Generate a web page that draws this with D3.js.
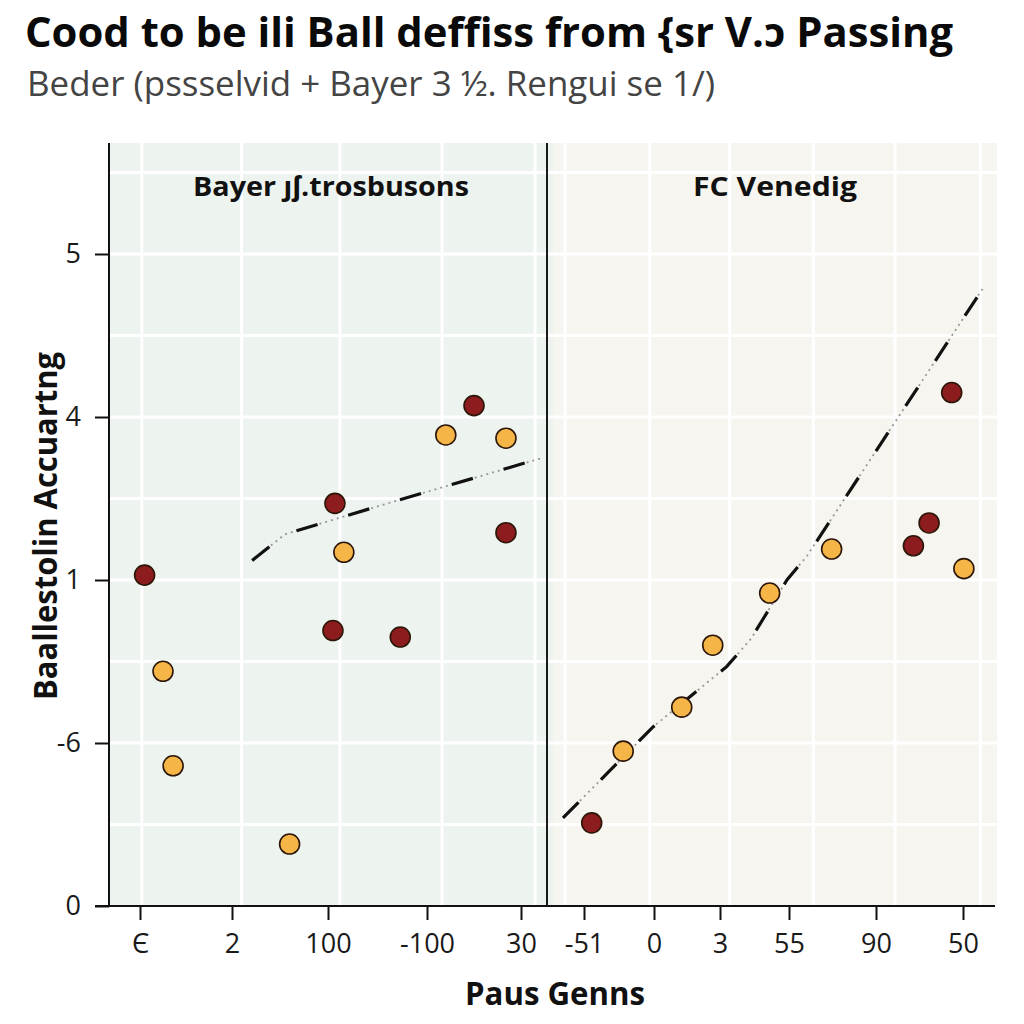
<!DOCTYPE html>
<html><head><meta charset="utf-8">
<script src="https://cdn.jsdelivr.net/npm/d3@7"></script>
<style>body{margin:0;background:#fff}svg{display:block}</style>
</head><body>
<svg id="c" width="1024" height="1024"></svg>
<script>
// ---- data ----
const titleText = "Cood to be ili Ball deffiss from {sr V.ɔ Passing";
const subtitleText = "Beder (pssselvid + Bayer 3 ½. Rengui se 1/)";
const panelNames = ["Bayer ȷʃ.trosbusons", "FC Venedig"];
const yTickLabels = ["0", "-6", "1", "4", "5"];        // at levels 0..4
const leftTickLabels = ["Є", "2", "100", "-100", "30"];
const rightTickLabels = ["-51", "0", "3", "55", "90", "50"];
const yAxisTitle = "Baallestolin Accuartng";
const xAxisTitle = "Paus Genns";

// left panel points: x (tick index units), y (level units), group
const leftX   = [0.05, 0.25, 0.36, 1.60, 2.07, 2.16, 2.05, 2.73, 3.20, 3.50, 3.84, 3.84];
const leftY   = [2.03, 1.44, 0.86, 0.38, 2.47, 2.17, 1.69, 1.65, 2.89, 3.07, 2.87, 2.29];
const leftG   = ["r", "o", "o", "o", "r", "o", "r", "r", "o", "r", "o", "r"];
const rightX  = [0.11, 0.56, 1.42, 1.89, 2.72, 3.49, 4.43, 4.61, 4.87, 5.01];
const rightY  = [0.51, 0.95, 1.22, 1.60, 1.92, 2.19, 2.21, 2.35, 3.15, 2.07];
const rightG  = ["r", "o", "o", "o", "o", "o", "r", "r", "r", "o"];
// trend lines
const leftTrendX  = [1.21, 1.55, 2.49, 3.88, 4.23];
const leftTrendY  = [2.12, 2.28, 2.45, 2.69, 2.75];
const rightTrendX = [-0.30, 0.99, 2.10, 2.45, 2.97, 3.21, 5.23];
const rightTrendY = [0.54, 1.10, 1.47, 1.64, 2.00, 2.15, 3.79];
// gridline positions (data units)
const leftGrid  = [0.02, 1.1, 2.12, 3.16, 4.15];
const rightGrid = [-0.27, 0.94, 2.14, 3.28, 4.22, 5.2];
const hGrid = [0.5, 1, 1.5, 2, 2.5, 3, 3.5, 4, 4.5];

// ---- layout ----
const svg = d3.select("#c");
const FONT = "'Open Sans', 'Noto Sans', sans-serif";
const plotTop = 143, plotBottom = 906;
const y = d3.scaleLinear().domain([0, 4]).range([plotBottom, 254]);
const xL = d3.scaleLinear().domain([0, 1, 2, 3, 4]).range([140, 232, 328, 427, 521]);
const xR = d3.scaleLinear().domain([0, 1, 2, 3, 4, 5]).range([584, 654, 720, 789, 876, 963]);
const leftPanel = [109, 547], rightPanel = [553, 997];
const colors = {r: "#8c1c1e", o: "#f6b547"};

// backgrounds
svg.append("rect").attr("x", leftPanel[0]).attr("y", plotTop).attr("width", rightPanel[0] - leftPanel[0]).attr("height", plotBottom - plotTop).attr("fill", "#edf3ee");
svg.append("rect").attr("x", rightPanel[0]).attr("y", plotTop).attr("width", rightPanel[1] - rightPanel[0]).attr("height", plotBottom - plotTop).attr("fill", "#f6f5ef");

// gridlines
const grid = svg.append("g").attr("stroke", "#ffffff").attr("stroke-width", 3);
hGrid.forEach(v => grid.append("line").attr("x1", leftPanel[0]).attr("x2", rightPanel[1]).attr("y1", y(v)).attr("y2", y(v)));
leftGrid.forEach(v => grid.append("line").attr("x1", xL(v)).attr("x2", xL(v)).attr("y1", plotTop).attr("y2", plotBottom));
rightGrid.forEach(v => grid.append("line").attr("x1", xR(v)).attr("x2", xR(v)).attr("y1", plotTop).attr("y2", plotBottom));

// trend lines
function trend(xs, ys, sx) {
  const pts = xs.map((v, i) => [sx(v), y(ys[i])]);
  const line = d3.line();
  svg.append("path").attr("d", line(pts)).attr("fill", "none").attr("stroke", "#999").attr("stroke-width", 1.8).attr("stroke-dasharray", "2,4");
  svg.append("path").attr("d", line(pts)).attr("fill", "none").attr("stroke", "#111").attr("stroke-width", 3.2).attr("stroke-dasharray", "22,32");
}
trend(leftTrendX, leftTrendY, xL);
trend(rightTrendX, rightTrendY, xR);

// points
function points(xs, ys, gs, sx) {
  svg.append("g").selectAll("circle").data(xs.map((v, i) => ({x: v, y: ys[i], g: gs[i]})))
    .join("circle").attr("cx", d => sx(d.x)).attr("cy", d => y(d.y)).attr("r", 10)
    .attr("fill", d => colors[d.g]).attr("stroke", "#2b1608").attr("stroke-width", 1.6);
}
points(leftX, leftY, leftG, xL);
points(rightX, rightY, rightG, xR);

// axes
const yAxis = d3.axisLeft(y).tickValues([0, 1, 2, 3, 4]).tickFormat((d, i) => yTickLabels[i]).tickSize(14).tickPadding(14);
const gy = svg.append("g").attr("transform", `translate(${leftPanel[0]},0)`).call(yAxis);
gy.select(".domain").attr("d", `M0,${plotTop}V${plotBottom}`).attr("stroke", "#111").attr("stroke-width", 2);

const gxL = svg.append("g").attr("transform", `translate(0,${plotBottom})`)
  .call(d3.axisBottom(xL).tickValues([0, 1, 2, 3, 4]).tickFormat((d, i) => leftTickLabels[i]).tickSize(14).tickPadding(14));
const gxR = svg.append("g").attr("transform", `translate(0,${plotBottom})`)
  .call(d3.axisBottom(xR).tickValues([0, 1, 2, 3, 4, 5]).tickFormat((d, i) => rightTickLabels[i]).tickSize(14).tickPadding(14));
gxL.select(".domain").remove(); gxR.select(".domain").remove();
svg.append("line").attr("x1", 95).attr("x2", 995).attr("y1", plotBottom).attr("y2", plotBottom).attr("stroke", "#111").attr("stroke-width", 2.2);
[gy, gxL, gxR].forEach(g => {
  g.selectAll(".tick line").attr("stroke", "#111").attr("stroke-width", 2);
  g.selectAll(".tick text").attr("font-family", FONT).attr("font-size", 27).attr("fill", "#1a1a1a");
});
// panel divider
svg.append("line").attr("x1", leftPanel[1]).attr("x2", leftPanel[1]).attr("y1", plotTop).attr("y2", plotBottom).attr("stroke", "#1a1a1a").attr("stroke-width", 2);

// panel titles
svg.append("text").attr("x", 331).attr("y", 196).attr("text-anchor", "middle").attr("font-family", FONT).attr("font-weight", 700).attr("font-size", 27).attr("fill", "#111").attr("textLength", 276).attr("lengthAdjust", "spacingAndGlyphs").text(panelNames[0]);
svg.append("text").attr("x", 775).attr("y", 196).attr("text-anchor", "middle").attr("font-family", FONT).attr("font-weight", 700).attr("font-size", 27).attr("fill", "#111").attr("textLength", 164).attr("lengthAdjust", "spacingAndGlyphs").text(panelNames[1]);

// titles
svg.append("text").attr("x", 25).attr("y", 47).attr("font-family", FONT).attr("font-weight", 700).attr("font-size", 42).attr("fill", "#0a0a0a").attr("textLength", 928).attr("lengthAdjust", "spacingAndGlyphs").text(titleText);
svg.append("text").attr("x", 27).attr("y", 96).attr("font-family", FONT).attr("font-size", 34).attr("fill", "#444").attr("textLength", 688).attr("lengthAdjust", "spacingAndGlyphs").text(subtitleText);

// axis titles
svg.append("text").attr("transform", "translate(57,526) rotate(-90)").attr("text-anchor", "middle").attr("font-family", FONT).attr("font-weight", 700).attr("font-size", 33).attr("fill", "#111").attr("textLength", 348).attr("lengthAdjust", "spacingAndGlyphs").text(yAxisTitle);
svg.append("text").attr("x", 555).attr("y", 1005).attr("text-anchor", "middle").attr("font-family", FONT).attr("font-weight", 700).attr("font-size", 32).attr("fill", "#111").attr("textLength", 180).attr("lengthAdjust", "spacingAndGlyphs").text(xAxisTitle);
</script>
</body></html>
